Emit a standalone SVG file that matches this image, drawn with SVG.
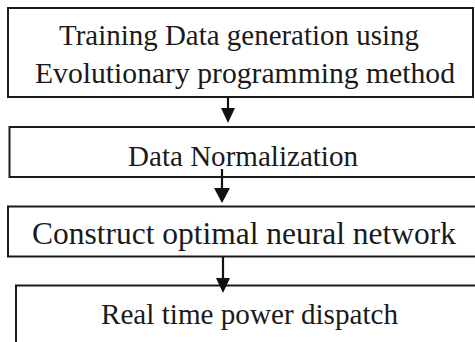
<svg xmlns="http://www.w3.org/2000/svg" width="475" height="342" viewBox="0 0 475 342">
<style>
.box{fill:#fff;stroke:#1a1a1a;stroke-width:2}
.t{font-family:"Liberation Serif","Times New Roman",serif;fill:#1a1a1a}
.ln{stroke:#111;stroke-width:2.2;fill:none}
.hd{fill:#111;stroke:none}
</style>
<rect width="475" height="342" fill="#fff"/>
<g id="n1">
<rect class="box" x="8" y="8" width="465" height="89"/>
<text class="t" x="59" y="45" font-size="29" textLength="360" lengthAdjust="spacingAndGlyphs">Training Data generation using</text>
<text class="t" x="35" y="83" font-size="29.5" textLength="420" lengthAdjust="spacingAndGlyphs">Evolutionary programming method</text>
</g>
<g id="n2">
<rect class="box" x="9.5" y="127" width="470" height="50"/>
<text class="t" x="128" y="166" font-size="29" textLength="230" lengthAdjust="spacingAndGlyphs">Data Normalization</text>
</g>
<g id="n3">
<rect class="box" x="8" y="206.5" width="470" height="50"/>
<text class="t" x="32" y="244" font-size="31" textLength="424" lengthAdjust="spacingAndGlyphs">Construct optimal neural network</text>
</g>
<g id="n4">
<rect class="box" x="16" y="285.5" width="470" height="70"/>
<text class="t" x="101" y="324" font-size="29" textLength="297" lengthAdjust="spacingAndGlyphs">Real time power dispatch</text>
</g>
<g id="connectors">
<line class="ln" x1="228" y1="97" x2="228" y2="110"/>
<polygon class="hd" points="221,108 235,108 228,123"/>
<line class="ln" x1="222" y1="169" x2="222" y2="190"/>
<polygon class="hd" points="214,188 230,188 222,203"/>
<line class="ln" x1="223" y1="257" x2="223" y2="280"/>
<polygon class="hd" points="216,278 230,278 223,293"/>
</g>
</svg>
